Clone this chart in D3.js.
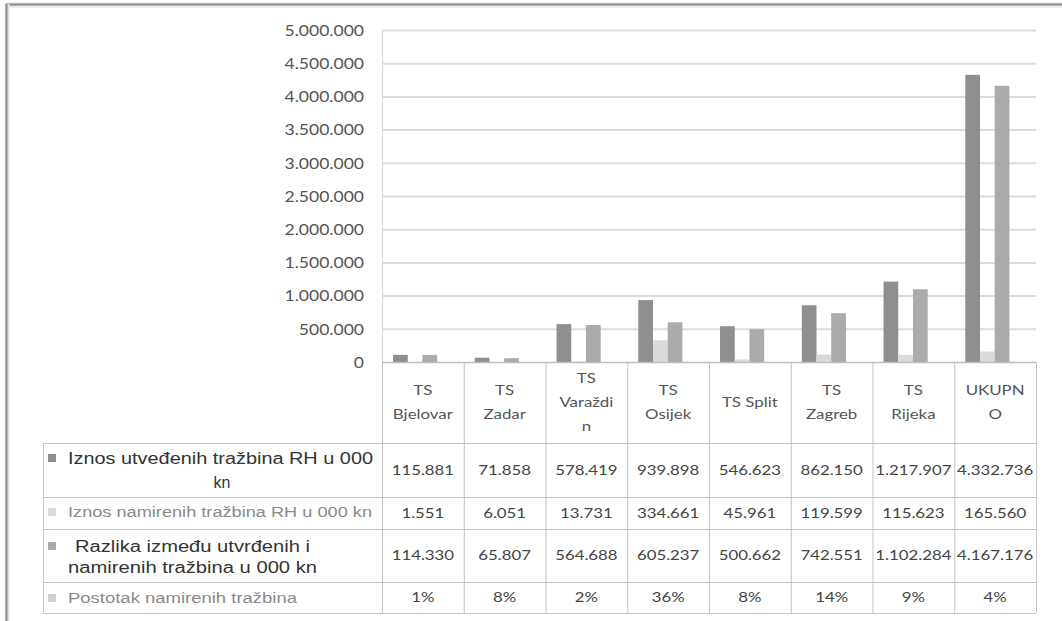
<!DOCTYPE html>
<html><head><meta charset="utf-8">
<script src="https://cdn.jsdelivr.net/npm/d3@7"></script>
<style>
html,body{margin:0;padding:0;background:#fff;}
svg{display:block;font-family:Lato,"Open Sans",sans-serif;}
</style></head>
<body><svg id="c" width="1062" height="621"></svg>
<script>
const categories = ["TS Bjelovar","TS Zadar","TS Varaždin","TS Osijek","TS Split","TS Zagreb","TS Rijeka","UKUPNO"];
const categoryLines = [["TS","Bjelovar"],["TS","Zadar"],["TS","Varaždi","n"],["TS","Osijek"],["TS Split"],["TS","Zagreb"],["TS","Rijeka"],["UKUPN","O"]];
const seriesNames = ["Iznos utveđenih tražbina RH u 000 kn","Iznos namirenih tražbina RH u 000 kn","Razlika između utvrđenih i namirenih tražbina u 000 kn","Postotak namirenih tražbina"];
const seriesLabelLines = [["Iznos utveđenih tražbina RH u 000","kn"],["Iznos namirenih tražbina RH u 000 kn"],["Razlika između utvrđenih i","namirenih tražbina u 000 kn"],["Postotak namirenih tražbina"]];
const utvrdenih = [115881, 71858, 578419, 939898, 546623, 862150, 1217907, 4332736];
const namirenih = [1551, 6051, 13731, 334661, 45961, 119599, 115623, 165560];
const razlika = [114330, 65807, 564688, 605237, 500662, 742551, 1102284, 4167176];
const postotak = [0.01, 0.08, 0.02, 0.36, 0.08, 0.14, 0.09, 0.04];
const yTicks = [0,500000,1000000,1500000,2000000,2500000,3000000,3500000,4000000,4500000,5000000];

const series = [utvrdenih, namirenih, razlika, postotak];
const colors = ["#8f8f8f","#dadada","#ababab","#d0d0d0"];

const loc = d3.formatLocale({decimal:",", thousands:".", grouping:[3], currency:["",""]});
const fmtN = loc.format(",d");
const fmtP = loc.format(".0%");

const svg = d3.select("#c");
// outer frame
svg.append("line").attr("x1",6).attr("x2",1062).attr("y1",5).attr("y2",5).attr("stroke","#e4e4e4").attr("stroke-width",5);
svg.append("line").attr("x1",6).attr("x2",1062).attr("y1",4.5).attr("y2",4.5).attr("stroke","#8a8a8a").attr("stroke-width",2);
svg.append("line").attr("x1",7).attr("x2",7).attr("y1",4).attr("y2",621).attr("stroke","#e4e4e4").attr("stroke-width",5);
svg.append("line").attr("x1",6.5).attr("x2",6.5).attr("y1",4).attr("y2",621).attr("stroke","#8a8a8a").attr("stroke-width",2);

const L = 382, R = 1036, T = 30.5, B = 362.5;
const x0 = d3.scaleBand().domain(categories).range([L,R]).padding(0);
const bw = x0.bandwidth();
const x1 = d3.scaleBand().domain(d3.range(4)).range([bw*0.135, bw*0.855]).padding(0);
const y = d3.scaleLinear().domain([0,5000000]).range([B,T]);

// stretched text helper
function sText(g, x, y, sx, t){
  return g.append("text").attr("transform",`translate(${x},${y}) scale(${sx},1)`).attr("dy","0.35em").text(t);
}

// gridlines
svg.append("g").selectAll("line").data(yTicks.filter(d=>d>0)).join("line")
  .attr("x1",L).attr("x2",R).attr("y1",d=>y(d)).attr("y2",d=>y(d))
  .attr("stroke","#dcdcdc").attr("stroke-width",2);
// y axis
const yAxis = d3.axisLeft(y).tickValues(yTicks).tickFormat(fmtN).tickSize(0).tickPadding(18);
const ga = svg.append("g").attr("transform",`translate(${L},0)`).call(yAxis);
ga.select(".domain").attr("stroke","#d6d6d6");
ga.selectAll(".tick text").attr("font-size",15).attr("fill","#555").attr("font-family","Lato, sans-serif")
  .attr("x",0).attr("transform","translate(-18,0) scale(1.17,1)");

// bars
const gBars = svg.append("g");
series.forEach((vals,si)=>{
  gBars.selectAll(null).data(vals).join("rect")
    .attr("x",(d,i)=>x0(categories[i])+x1(si))
    .attr("width",x1.bandwidth())
    .attr("y",d=>y(d))
    .attr("height",d=>B-y(d))
    .attr("fill",colors[si]);
});

// table
const rowY = [443, 497, 529, 582, 613];
const tblL = 43;
const g = svg.append("g");
const lineC = "#c4c4c4";
g.append("line").attr("x1",L).attr("x2",R).attr("y1",B).attr("y2",B).attr("stroke","#bdbdbd").attr("stroke-width",1.5);
const colEdges = categories.map(c=>x0(c)).concat([R]);
g.selectAll(null).data(colEdges).join("line")
  .attr("x1",d=>d+0.5).attr("x2",d=>d+0.5).attr("y1",B).attr("y2",rowY[4])
  .attr("stroke",lineC);
g.append("line").attr("x1",tblL+0.5).attr("x2",tblL+0.5).attr("y1",rowY[0]).attr("y2",rowY[4]).attr("stroke",lineC);
g.selectAll(null).data(rowY).join("line")
  .attr("x1",tblL).attr("x2",R).attr("y1",d=>d+0.5).attr("y2",d=>d+0.5).attr("stroke",lineC);

// header text
categories.forEach((c,i)=>{
  const lines = categoryLines[i];
  const cx = x0(c)+bw/2;
  const cy = (B+rowY[0])/2;
  const lh = 24;
  lines.forEach((t,k)=>{
    sText(g, cx, cy+(k-(lines.length-1)/2)*lh, 1.25, t)
      .attr("text-anchor","middle").attr("font-size",13.5).attr("fill","#555");
  });
});

// row labels and values
const labelSize = [16,14,16,14];
const labelColor = ["#333","#8a8a8a","#333","#8a8a8a"];
const labelX = [[68,222],[68],[75,68],[68]];
const labelW = [[305,null],[304],[235,249],[229]];
const rowCY = [[458,482],[512],[546,567],[598]];
series.forEach((vals,si)=>{
  const y0 = rowY[si], y1 = rowY[si+1], cy = (y0+y1)/2;
  const lines = seriesLabelLines[si];
  g.append("rect").attr("x",48).attr("y",rowCY[si][0]-4).attr("width",8).attr("height",8).attr("fill",colors[si]);
  lines.forEach((t,k)=>{
    const txt = g.append("text").attr("x",labelX[si][k]).attr("y",rowCY[si][k]).attr("dy","0.35em")
      .attr("font-family","'Liberation Sans', Arial, sans-serif")
      .attr("font-size",labelSize[si]).attr("fill",labelColor[si]).text(t);
    if(labelW[si][k]) txt.attr("textLength",labelW[si][k]).attr("lengthAdjust","spacingAndGlyphs");
    else txt.attr("text-anchor","middle");
  });
  vals.forEach((v,i)=>{
    sText(g, x0(categories[i])+bw/2, cy, 1.2, si===3?fmtP(v):fmtN(v))
      .attr("text-anchor","middle").attr("font-size",14).attr("fill","#444");
  });
});
</script></body></html>
